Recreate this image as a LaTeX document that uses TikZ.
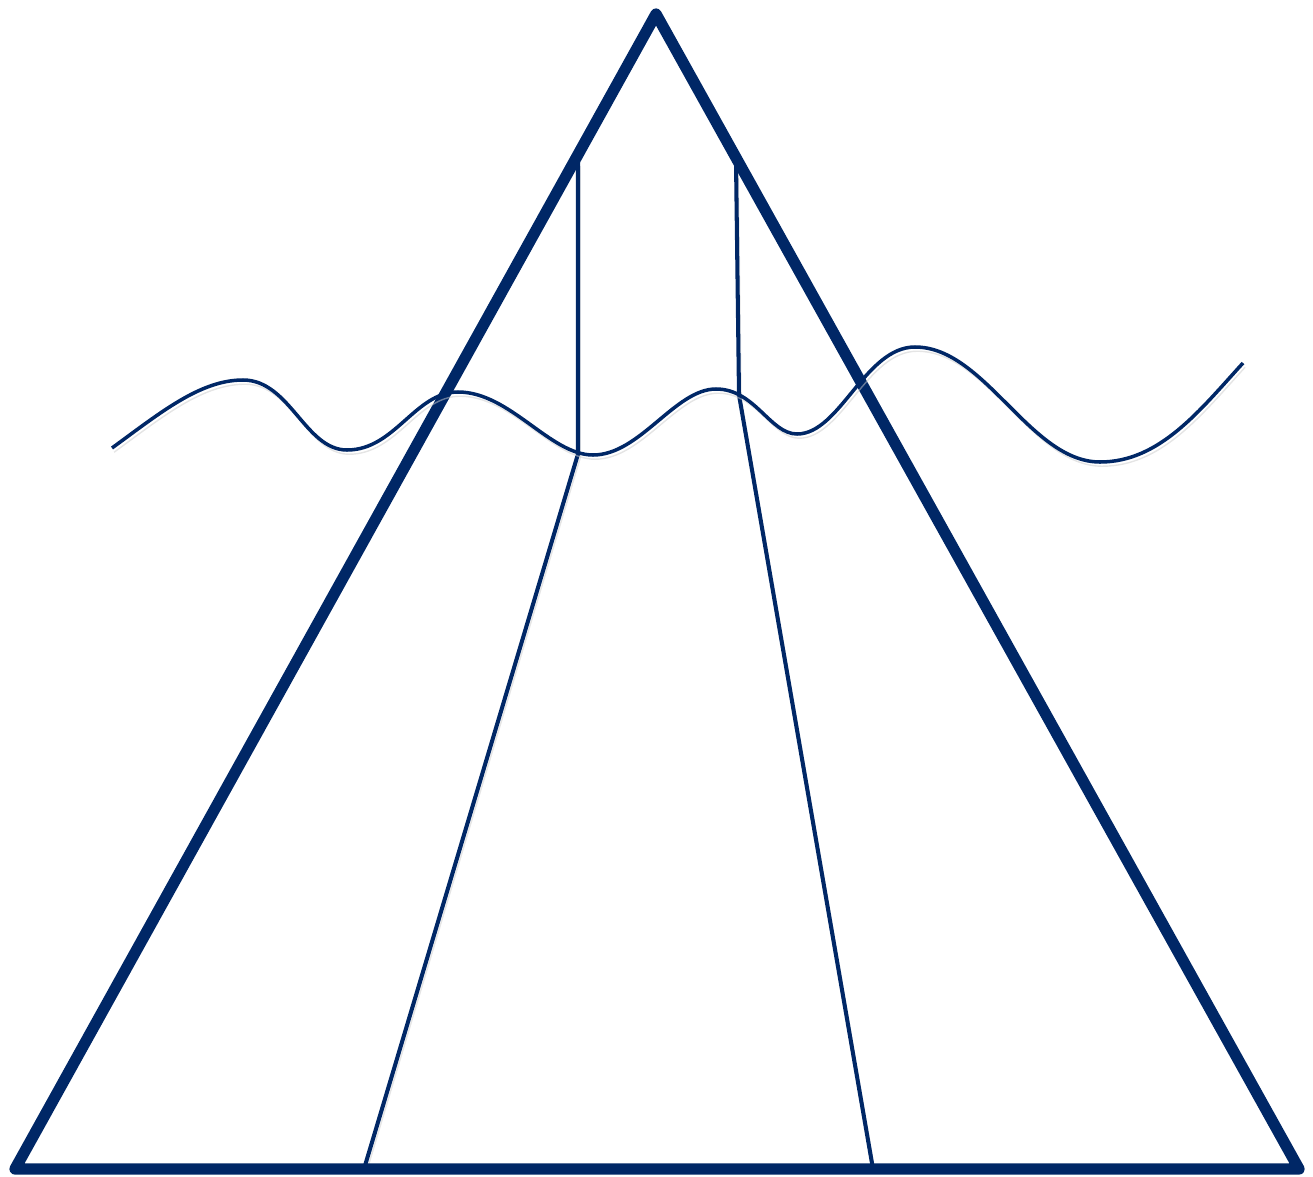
\documentclass[tikz,border=0pt]{standalone}
\usepackage{xcolor}
\usepackage{tikz}
\usetikzlibrary{calc}

\definecolor{navy}{RGB}{0,39,102}

\begin{document}
\begin{tikzpicture}[x=0.01cm, y=-0.01cm,
   shadowed/.style={preaction={draw=black!20, opacity=0.5, transform canvas={xshift=0.6pt, yshift=-1.2pt}}},
   thick line/.style={navy, line width=3.2pt, line join=round, line cap=round},
   thin line/.style={navy, line width=1.15pt, shadowed}]
\useasboundingbox (0,0) rectangle (1313,1176);

% corners of the triangle
\coordinate (apex) at (656,14);
\coordinate (bl) at (15,1169);
\coordinate (br) at (1299,1169);

% inner lines
\coordinate (ltop) at (578,162);
\coordinate (lmid) at (578,454);
\coordinate (lbot) at (364,1169);
\coordinate (rtop) at (736,162);
\coordinate (rmid) at (739,395);
\coordinate (rbot) at (873,1169);

\draw[thin line] (ltop) -- (lmid) -- (lbot);
\draw[thin line] (rtop) -- (rmid) -- (rbot);

\draw[thick line] (apex) -- (bl) -- (br) -- cycle;

% the wave
\draw[thin line, line width=1pt] (112,448)
   .. controls (160,413) and (200,380) .. (243,380)
   .. controls (290,380) and (305,450) .. (347,450)
   .. controls (395,450) and (415,392) .. (458,392)
   .. controls (510,392) and (550,455) .. (593,455)
   .. controls (640,455) and (675,389) .. (716,389)
   .. controls (755,389) and (770,434) .. (797,434)
   .. controls (840,434) and (865,347) .. (915,347)
   .. controls (985,347) and (1030,462) .. (1100,462)
   .. controls (1160,462) and (1200,410) .. (1243,363);
\end{tikzpicture}
\end{document}
